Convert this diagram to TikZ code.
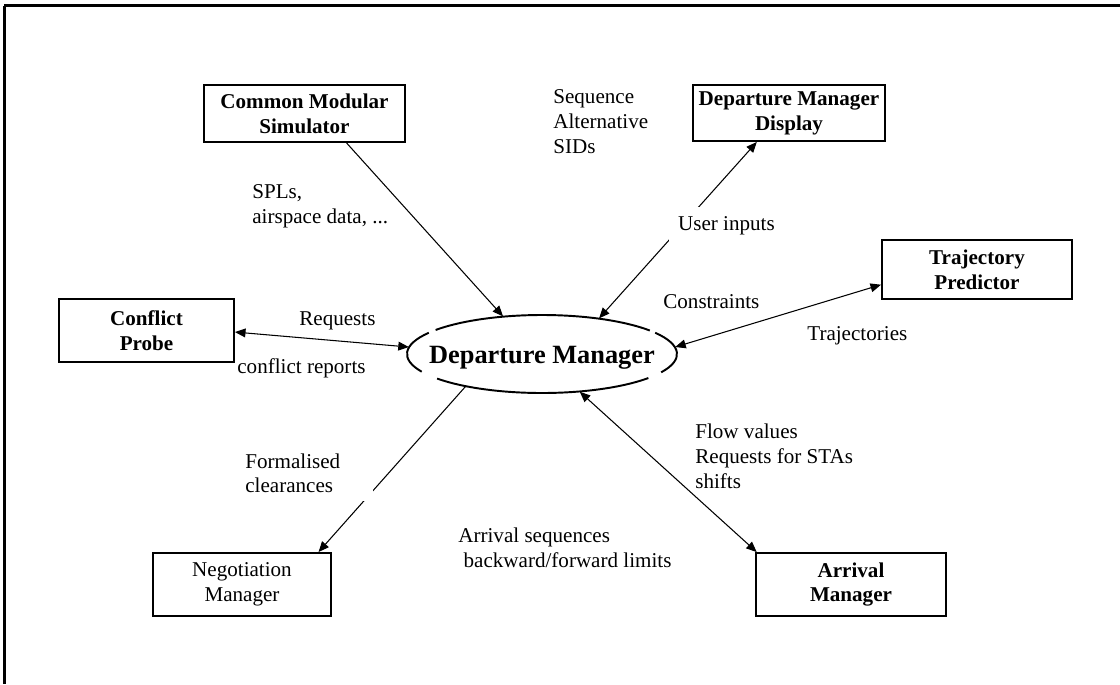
\documentclass[tikz,border=0pt]{standalone}
\usepackage{fontspec}
\setmainfont{Liberation Serif}
\usetikzlibrary{arrows.meta,shapes.geometric}

\begin{document}
\begin{tikzpicture}[x=0.02cm, y=-0.02cm, font=\fontsize{12}{14.2}\selectfont, >={Triangle[length=6pt,width=5pt]}]
        \tikzstyle{caixa}=[draw=black, line width=1.1pt, rectangle, align=center, inner sep=0pt, font=\fontsize{12}{14.2}\selectfont\bfseries]
        \tikzstyle{rotulo}=[inner sep=0pt, align=left, anchor=base west]
        \tikzstyle{seta}=[line width=0.6pt]
        \tikzstyle{contorno}=[line width=1.1pt]

        \useasboundingbox (0,0) rectangle (1120,684);

        \coordinate (A) at (304.5,113.5);
        \coordinate (B) at (789,113);
        \coordinate (C) at (977,269.5);
        \coordinate (D) at (146.5,330.5);
        \coordinate (E) at (242,584.5);
        \coordinate (F) at (851,584.5);
        \coordinate (G) at (542,354);

        \draw[line width=1.7pt] (4,5.5) -- (1120,5.5);
        \draw[line width=1.3pt] (4.5,5.5) -- (4.5,684);

        \node (cms) at (A)[caixa, minimum width=4.02cm, minimum height=1.14cm]{Common Modular\\Simulator};
        \node (dmd) at (B)[caixa, minimum width=3.84cm, minimum height=1.12cm]{Departure Manager\\Display};
        \node (tp) at (C)[caixa, minimum width=3.8cm, minimum height=1.18cm]{Trajectory\\Predictor};
        \node (cp) at (D)[caixa, minimum width=3.5cm, minimum height=1.26cm]{Conflict\\Probe};
        \node (nm) at (E)[caixa, minimum width=3.56cm, minimum height=1.26cm, font=\fontsize{12}{14.2}\selectfont]{Negotiation\\Manager};
        \node (am) at (F)[caixa, minimum width=3.8cm, minimum height=1.26cm]{Arrival\\Manager};

        \node (dm) at (G)[ellipse, minimum width=5.4cm, minimum height=1.56cm, inner sep=0pt,
                label={[font=\fontsize{15}{18}\selectfont\bfseries, yshift=-2.3pt]center:Departure Manager}]{};
        \draw[contorno] ([shift={(-142:135 and 39)}]dm.center) arc[start angle=-142, end angle=-37, x radius=135, y radius=39];
        \draw[contorno] ([shift={(-207:135 and 39)}]dm.center) arc[start angle=-207, end angle=-147, x radius=135, y radius=39];
        \draw[contorno] ([shift={(-322:135 and 39)}]dm.center) arc[start angle=-322, end angle=-219, x radius=135, y radius=39];
        \draw[contorno] ([shift={(-33:135 and 39)}]dm.center) arc[start angle=-33, end angle=28, x radius=135, y radius=39];

        \draw[seta, ->] (cms.-35) -- (dm.136);
        \draw[seta, <->] (dm.32) -- (dmd.-138);
        \draw[seta, <->] (dm.3) -- (tp.189);
        \draw[seta, <->] (cp.-1) -- (dm.177);
        \draw[seta, ->] (dm.-157) -- (nm.23);
        \draw[seta, <->] (dm.-45) -- (am.161);

        \node (spl) at (252,223)[rotulo]{SPLs,\\airspace data, ...};
        \node (seq) at (553,153)[rotulo]{Sequence\\Alternative\\SIDs};
        \node (usr) at (669,230)[rotulo, fill=white, inner sep=5pt]{User inputs};
        \node (con) at (663,308)[rotulo]{Constraints};
        \node (tra) at (807,340)[rotulo]{Trajectories};
        \node (req) at (299,325)[rotulo]{Requests};
        \node (crp) at (237,373)[rotulo]{conflict reports};
        \node (frm) at (245,468)[rotulo, fill=white, text width=2.55cm, inner ysep=4.5pt]{Formalised\\clearances};
        \node (flo) at (695,488)[rotulo]{Flow values\\Requests for STAs\\shifts};
        \node (arr) at (458,567)[rotulo]{Arrival sequences\\\hspace*{3pt}backward/forward limits};
\end{tikzpicture}
\end{document}
